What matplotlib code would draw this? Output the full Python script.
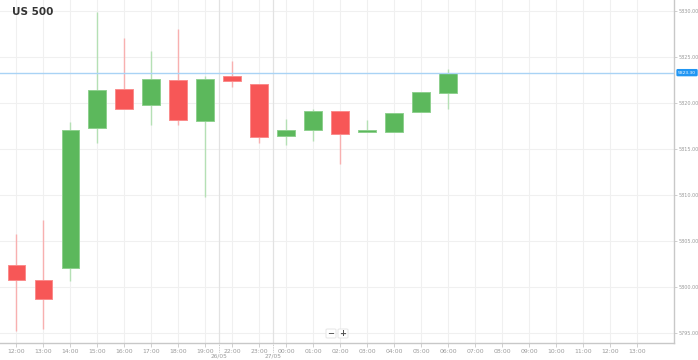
import matplotlib
matplotlib.use("Agg")
import matplotlib.pyplot as plt
from matplotlib.patches import FancyBboxPatch

# ---- data ----
title = "US 500"
axis_labels = ["12:00", "13:00", "14:00", "15:00", "16:00", "17:00", "18:00", "19:00",
               "22:00", "23:00", "00:00", "01:00", "02:00", "03:00", "04:00", "05:00",
               "06:00", "07:00", "08:00", "09:00", "10:00", "11:00", "12:00", "13:00"]
opens = [5802.4, 5800.7, 5802.1, 5817.25, 5821.5, 5819.8, 5822.5, 5818.0, 5822.9, 5822.1,
         5816.4, 5817.1, 5819.1, 5816.85, 5816.85, 5819.0, 5821.05]
closes = [5800.8, 5798.7, 5817.1, 5821.4, 5819.3, 5822.6, 5818.1, 5822.6, 5822.4, 5816.3,
          5817.1, 5819.1, 5816.6, 5817.1, 5818.9, 5821.2, 5823.3]
highs = [5805.7, 5807.3, 5817.9, 5829.9, 5827.1, 5825.65, 5828.1, 5822.9, 5824.6, 5822.1,
         5818.3, 5819.3, 5819.1, 5818.1, 5818.9, 5821.2, 5823.7]
lows = [5795.2, 5795.4, 5800.6, 5815.6, 5819.3, 5817.6, 5817.6, 5809.8, 5821.7, 5815.6,
        5815.4, 5815.9, 5813.4, 5816.85, 5816.85, 5819.0, 5819.35]
price_ticks = [5795, 5800, 5805, 5810, 5815, 5820, 5825, 5830]
current_price = 5823.3
current_label = "5823.30"
date_dividers = [7.5, 9.5]
date_labels = ["26/05", "27/05"]

# ---- style ----
UP = "#5cb85c"
UP_EDGE = "#8fd08f"
UP_WICK = "#b5e0b5"
DN = "#f75757"
DN_EDGE = "#fa8c8c"
DN_WICK = "#f8b0b0"
GRID = "#f0f0f0"
TXT = "#9a9a9a"

fig = plt.figure(figsize=(6.98, 3.60), dpi=100)
fig.patch.set_facecolor("white")
ax = fig.add_axes([0, 17 / 360, 674 / 698, 343 / 360])
ax.set_facecolor("white")

n_slots = len(axis_labels)
ax.set_xlim(-0.61, 24.37)
ax.set_ylim(5793.9, 5831.2)

# grid
for i in range(n_slots):
    ax.axvline(i, color=GRID, lw=0.8, zorder=0)
for p in price_ticks:
    ax.axhline(p, color=GRID, lw=0.8, zorder=0)
for d in date_dividers:
    ax.axvline(d, color="#e2e2e2", lw=0.9, zorder=0)

# candles
w = 0.66
for i, (o, c, h, l) in enumerate(zip(opens, closes, highs, lows)):
    up = c >= o
    wick = UP_WICK if up else DN_WICK
    ax.vlines(i, l, h, color=wick, lw=1.0, zorder=1)
    bottom = min(o, c)
    height = max(abs(c - o), 0.25)
    ax.bar(i, height, bottom=bottom, width=w,
           color=UP if up else DN, edgecolor=UP_EDGE if up else DN_EDGE,
           linewidth=0.7, zorder=2)

# current price line
ax.axhline(current_price, color="#a9d3f5", lw=1.0, zorder=3)

# axes styling
for s in ["top", "left"]:
    ax.spines[s].set_visible(False)
ax.spines["right"].set_color("#c8c8c8")
ax.spines["bottom"].set_color("#c8c8c8")
ax.spines["right"].set_linewidth(1.0)
ax.spines["bottom"].set_linewidth(1.0)

ax.yaxis.tick_right()
ax.set_yticks(price_ticks)
ax.set_yticklabels([f"{p:.2f}" for p in price_ticks])
ax.tick_params(axis="y", length=2, width=0.6, colors="#c8c8c8", labelcolor=TXT,
               labelsize=3.5, pad=1.2)
ax.set_xticks(range(n_slots))
ax.set_xticklabels(axis_labels)
ax.tick_params(axis="x", length=3, width=0.6, colors="#c8c8c8", labelcolor=TXT,
               labelsize=4.4, pad=1.5)

# date labels under dividers
for d, lab in zip(date_dividers, date_labels):
    ax.plot([d, d], [0, -0.03], transform=ax.get_xaxis_transform(), clip_on=False,
            color="#bbbbbb", lw=0.6, ls=(0, (1, 1)))
    ax.text(d, -0.031, lab, transform=ax.get_xaxis_transform(), ha="center", va="top",
            fontsize=4.2, color=TXT)

# current price label box on axis
ax.text(1.006, current_price, current_label, transform=ax.get_yaxis_transform(),
        ha="left", va="center", fontsize=3.2, color="white", clip_on=False, zorder=5,
        bbox=dict(boxstyle="round,pad=0.22,rounding_size=0.15", fc="#2196f3", ec="#2196f3"))

# title
fig.text(12 / 698, 1 - 12 / 360, title, fontsize=7.5, fontweight="bold", color="#333333",
         ha="left", va="center")

# zoom buttons
for cx, sym in [(331, "\u2212"), (343, "+")]:
    bx = FancyBboxPatch(((cx - 5) / 698, 1 - 338 / 360), 10 / 698, 9 / 360,
                        boxstyle="round,pad=0,rounding_size=0.002",
                        transform=fig.transFigure, fc="white", ec="#e2e2e2", lw=0.6,
                        zorder=10)
    fig.add_artist(bx)
    fig.text(cx / 698, 1 - 333.5 / 360, sym, fontsize=6, fontweight="bold",
             color="#555555", ha="center", va="center", zorder=11)

fig.savefig("out.png", dpi=100)
